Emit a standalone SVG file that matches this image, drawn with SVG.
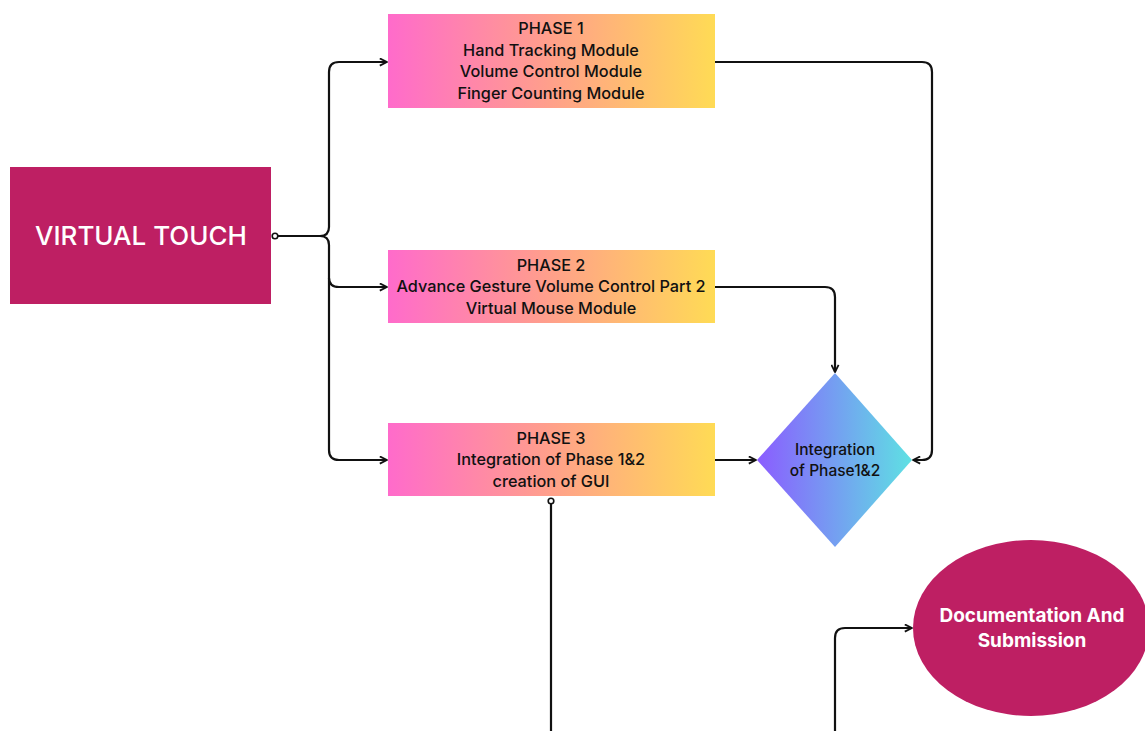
<svg xmlns="http://www.w3.org/2000/svg" width="1145" height="731" viewBox="0 0 1145 731">
<defs>
<linearGradient id="gPhase" x1="0" y1="0" x2="1" y2="0">
<stop offset="0" stop-color="#FF6BCB"/>
<stop offset="0.5" stop-color="#FFA08A"/>
<stop offset="1" stop-color="#FFDB55"/>
</linearGradient>
<linearGradient id="gDiamond" x1="0" y1="0" x2="1" y2="0">
<stop offset="0" stop-color="#8B5CFF"/>
<stop offset="1" stop-color="#5EE1E3"/>
</linearGradient>
<marker id="arr" viewBox="0 0 10 10" refX="9" refY="5" markerWidth="9" markerHeight="9" orient="auto" markerUnits="userSpaceOnUse">
<path d="M1,1 L9,5 L1,9" fill="none" stroke="#111" stroke-width="2" stroke-linejoin="round"/>
</marker>
<marker id="dot" viewBox="0 0 10 10" refX="5" refY="5" markerWidth="8" markerHeight="8" markerUnits="userSpaceOnUse">
<circle cx="5" cy="5" r="3.5" fill="#fff" stroke="#111" stroke-width="2"/>
</marker>
</defs>
<style>
.conn{fill:none;stroke:#111;stroke-width:2.2;stroke-linejoin:round;}
.ph{font-family:Inter,"Liberation Sans",sans-serif;font-size:16.3px;font-weight:500;fill:#111;text-anchor:middle;}
.dt{font-family:Inter,"Liberation Sans",sans-serif;font-size:15.5px;font-weight:500;fill:#111;text-anchor:middle;}
.wt{font-family:Inter,"Liberation Sans",sans-serif;fill:#fff;text-anchor:middle;}
</style>
<rect width="1145" height="731" fill="#fff"/>
<g id="connectors">
<path class="conn" d="M275,236 H320 Q329,236 329,227 V72 Q329,62 339,62 H387" marker-start="url(#dot)" marker-end="url(#arr)"/>
<path class="conn" d="M320,236 Q329,236 329,245 V278 Q329,287 339,287 H387" marker-end="url(#arr)"/>
<path class="conn" d="M329,278 V450 Q329,460 339,460 H387" marker-end="url(#arr)"/>
<path class="conn" d="M715,62 H922 Q932,62 932,72 V450 Q932,460 922,460 H913" marker-end="url(#arr)"/>
<path class="conn" d="M715,287 H825 Q835,287 835,297 V372" marker-end="url(#arr)"/>
<path class="conn" d="M715,460 H756" marker-end="url(#arr)"/>
<path class="conn" d="M551,501 V735 Q551,745 561,745 H825 Q835,745 835,735 V638 Q835,628 845,628 H912" marker-start="url(#dot)" marker-end="url(#arr)"/>
</g>
<g id="virtual-touch">
<rect x="10" y="167" width="261" height="137" fill="#BE1F63"/>
<text class="wt" x="141" y="245" font-size="26" font-weight="500">VIRTUAL TOUCH</text>
</g>
<g id="phase1">
<rect x="388" y="14" width="327" height="94" fill="url(#gPhase)"/>
<text class="ph" x="551" y="34">PHASE 1</text>
<text class="ph" x="551" y="56">Hand Tracking Module</text>
<text class="ph" x="551" y="77">Volume Control Module</text>
<text class="ph" x="551" y="99">Finger Counting Module</text>
</g>
<g id="phase2">
<rect x="388" y="250" width="327" height="73" fill="url(#gPhase)"/>
<text class="ph" x="551" y="271">PHASE 2</text>
<text class="ph" x="551" y="292">Advance Gesture Volume Control Part 2</text>
<text class="ph" x="551" y="314">Virtual Mouse Module</text>
</g>
<g id="phase3">
<rect x="388" y="423" width="327" height="73" fill="url(#gPhase)"/>
<text class="ph" x="551" y="444">PHASE 3</text>
<text class="ph" x="551" y="465">Integration of Phase 1&amp;2</text>
<text class="ph" x="551" y="487">creation of GUI</text>
</g>
<g id="integration">
<polygon points="835,373 912,460 835,547 757,460" fill="url(#gDiamond)"/>
<text class="dt" x="835" y="455">Integration</text>
<text class="dt" x="835" y="476">of Phase1&amp;2</text>
</g>
<g id="documentation">
<ellipse cx="1031" cy="628" rx="118" ry="88" fill="#BE1F63"/>
<text class="wt" x="1032" y="622" font-size="19" font-weight="700">Documentation And</text>
<text class="wt" x="1032" y="647" font-size="19" font-weight="700">Submission</text>
</g>
</svg>
